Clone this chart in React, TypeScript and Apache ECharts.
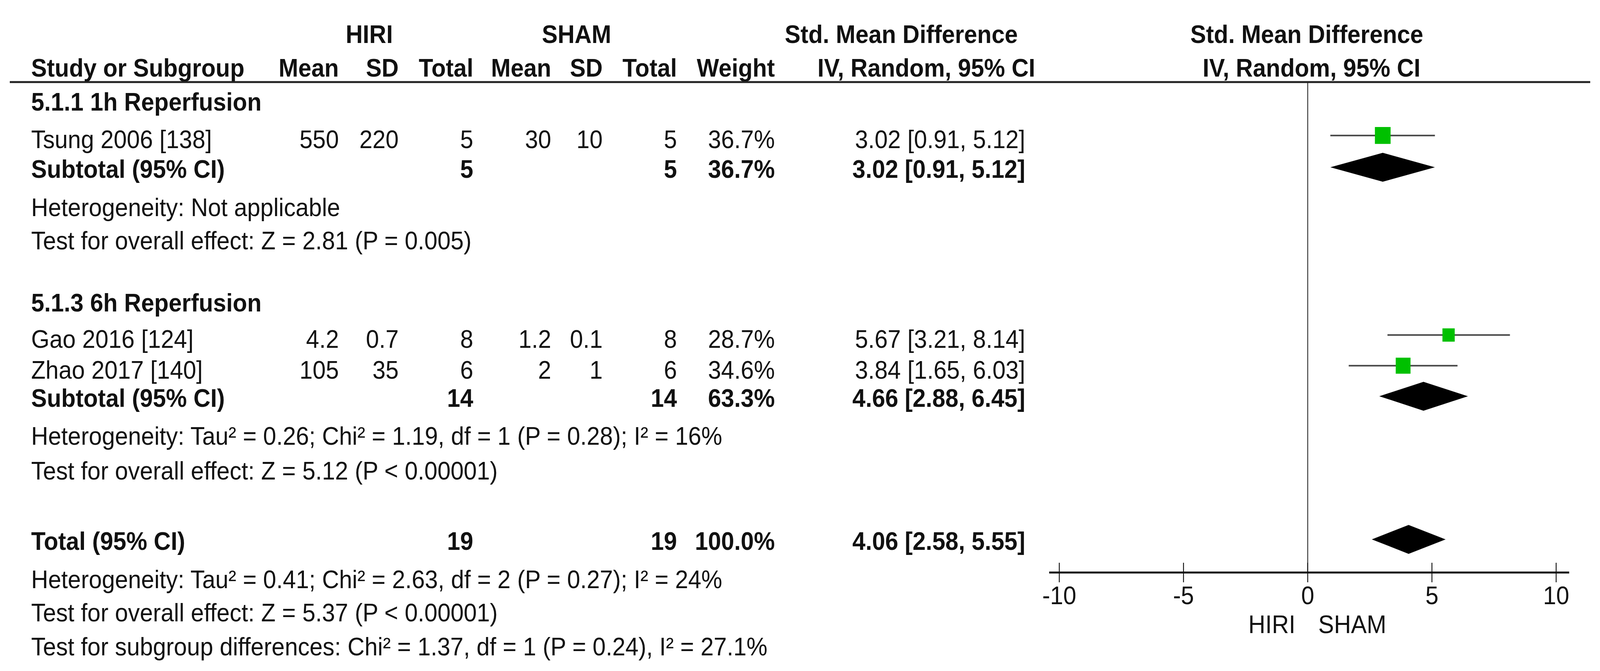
import React, { useEffect, useRef } from "react";
import * as echarts from "echarts";

// ---------- data ----------
const studyNames = ["Tsung 2006 [138]", "Gao 2016 [124]", "Zhao 2017 [140]"];
const studyGroup = [0, 1, 1];
const hiriMean = [550, 4.2, 105];
const hiriSD = [220, 0.7, 35];
const hiriTotal = [5, 8, 6];
const shamMean = [30, 1.2, 2];
const shamSD = [10, 0.1, 1];
const shamTotal = [5, 8, 6];
const studyWeight = [36.7, 28.7, 34.6];
const studySMD = [3.02, 5.67, 3.84];
const studyLow = [0.91, 3.21, 1.65];
const studyHigh = [5.12, 8.14, 6.03];

const groupNames = ["5.1.1 1h Reperfusion", "5.1.3 6h Reperfusion"];
const groupHiriTotal = [5, 14];
const groupShamTotal = [5, 14];
const groupWeight = [36.7, 63.3];
const groupSMD = [3.02, 4.66];
const groupLow = [0.91, 2.88];
const groupHigh = [5.12, 6.45];
const groupHet = [
  "Heterogeneity: Not applicable",
  "Heterogeneity: Tau² = 0.26; Chi² = 1.19, df = 1 (P = 0.28); I² = 16%",
];
const groupEffect = [
  "Test for overall effect: Z = 2.81 (P = 0.005)",
  "Test for overall effect: Z = 5.12 (P < 0.00001)",
];

const totalHiri = 19;
const totalSham = 19;
const totalWeight = 100.0;
const totalSMD = 4.06;
const totalLow = 2.58;
const totalHigh = 5.55;
const totalNotes = [
  "Heterogeneity: Tau² = 0.41; Chi² = 2.63, df = 2 (P = 0.27); I² = 24%",
  "Test for overall effect: Z = 5.37 (P < 0.00001)",
  "Test for subgroup differences: Chi² = 1.37, df = 1 (P = 0.24), I² = 27.1%",
];

const axisTicks = [-10, -5, 0, 5, 10];
const favourLeft = "HIRI";
const favourRight = "SHAM";

// ---------- layout (row slots, in y-axis line units) ----------
const HDR_Y = [-1.57, -0.47];
const GROUP_HEAD_Y = [0.64, 7.19];
const STUDY_Y = [1.87, 8.38, 9.38];
const SUBTOTAL_Y = [2.83, 10.3];
const HET_Y = [4.08, 11.54];
const TEST_Y = [5.16, 12.68];
const TOTAL_Y = 14.97;
const NOTE_Y = [16.22, 17.3, 18.41];
const FAVOUR_Y = 17.68;

const COL = {
  name: 86,
  hMean: 935,
  hSD: 1100,
  hTot: 1306,
  sMean: 1521,
  sSD: 1663,
  sTot: 1868,
  weight: 2138,
  ci: 2829,
};

const W = 4415;
const H = 1717;
const FONT = '"Liberation Sans", Arial, Helvetica, sans-serif';
const FS = 65;
const INK = "#111";

const ciText = (m: number, l: number, h: number) =>
  `${m.toFixed(2)} [${l.toFixed(2)}, ${h.toFixed(2)}]`;

export default function App() {
  const ref = useRef<HTMLDivElement>(null);
  const sx = typeof window !== "undefined" ? Math.min(1, window.innerWidth / W) : 1;
  const sy = typeof window !== "undefined" ? Math.min(1, window.innerHeight / H) : 1;

  useEffect(() => {
    if (!ref.current) return;
    const chart = echarts.init(ref.current, undefined, { renderer: "svg", width: W, height: H });

    const studyData = studyNames.map((_, i) => [
      studySMD[i],
      studyLow[i],
      studyHigh[i],
      STUDY_Y[i],
      studyWeight[i],
    ]);
    const diamondData = [
      ...groupNames.map((_, g) => [groupSMD[g], groupLow[g], groupHigh[g], SUBTOTAL_Y[g]]),
      [totalSMD, totalLow, totalHigh, TOTAL_Y],
    ];

    chart.setOption({
      animation: false,
      backgroundColor: "#ffffff",
      textStyle: { fontFamily: FONT },
      grid: { left: 2923, right: 121, top: 210, bottom: 252, containLabel: false },
      xAxis: {
        type: "value",
        min: -10,
        max: 10,
        interval: 5,
        axisLine: { show: false },
        axisTick: { show: false },
        splitLine: { show: false },
        axisLabel: {
          show: true,
          fontSize: FS,
          color: INK,
          fontFamily: FONT,
          margin: 26,
          formatter: (v: number) => String(v),
        },
      },
      yAxis: {
        type: "value",
        inverse: true,
        min: 0,
        max: 16,
        show: false,
      },
      series: [
        {
          // axis line, ticks and line of no effect
          type: "custom",
          data: [[0, 0]],
          silent: true,
          z: 1,
          renderItem: (params: any, api: any) => {
            const yb = api.coord([0, 16])[1];
            const yt = api.coord([0, 0])[1];
            const x0 = api.coord([0, 0])[0];
            const xl = api.coord([axisTicks[0], 16])[0];
            const xr = api.coord([axisTicks[axisTicks.length - 1], 16])[0];
            const children: any[] = [
              {
                type: "line",
                shape: { x1: x0, y1: yt, x2: x0, y2: yb },
                style: { stroke: "#333", lineWidth: 2.5 },
              },
              {
                type: "line",
                shape: { x1: xl - 28, y1: yb, x2: xr + 36, y2: yb },
                style: { stroke: "#111", lineWidth: 5 },
              },
            ];
            axisTicks.forEach((t) => {
              const x = api.coord([t, 16])[0];
              children.push({
                type: "line",
                shape: { x1: x, y1: yb - 25, x2: x, y2: yb + 25 },
                style: { stroke: "#111", lineWidth: 2.5 },
              });
            });
            return { type: "group", children };
          },
        },
        {
          // studies: CI line + weighted square
          type: "custom",
          data: studyData,
          encode: { x: [0, 1, 2], y: 3 },
          z: 3,
          renderItem: (params: any, api: any) => {
            const y = api.coord([api.value(0), api.value(3)])[1] - 10;
            const xe = api.coord([api.value(0), 0])[0];
            const xl = api.coord([api.value(1), 0])[0];
            const xh = api.coord([api.value(2), 0])[0];
            const s = api.value(4) * 1.18;
            return {
              type: "group",
              children: [
                {
                  type: "line",
                  shape: { x1: xl, y1: y, x2: xh, y2: y },
                  style: { stroke: "#474747", lineWidth: 4 },
                },
                {
                  type: "rect",
                  shape: { x: xe - s / 2, y: y - s / 2, width: s, height: s },
                  style: { fill: "#00c000" },
                },
              ],
            };
          },
        },
        {
          // subtotal / total diamonds
          type: "custom",
          data: diamondData,
          encode: { x: [0, 1, 2], y: 3 },
          z: 3,
          renderItem: (params: any, api: any) => {
            const y = api.coord([api.value(0), api.value(3)])[1] - 4;
            const xe = api.coord([api.value(0), 0])[0];
            const xl = api.coord([api.value(1), 0])[0];
            const xh = api.coord([api.value(2), 0])[0];
            const h = 37;
            return {
              type: "polygon",
              shape: {
                points: [
                  [xl, y],
                  [xe, y - h],
                  [xh, y],
                  [xe, y + h],
                ],
              },
              style: { fill: "#000" },
            };
          },
        },
      ],
    });

    const py = (v: number) => (chart.convertToPixel({ gridIndex: 0 }, [0, v]) as number[])[1];
    const px = (v: number) => (chart.convertToPixel({ gridIndex: 0 }, [v, 0]) as number[])[0];

    const texts: any[] = [];
    const T = (text: string, x: number, yv: number, align: string, bold = false) => {
      texts.push({
        type: "text",
        x,
        y: py(yv),
        silent: true,
        style: {
          text,
          fontSize: FS,
          fontFamily: FONT,
          fontWeight: bold ? "bold" : "normal",
          fill: INK,
          align,
          textAlign: align,
          verticalAlign: "middle",
          textVerticalAlign: "middle",
        },
      });
    };

    T("HIRI", 1019, HDR_Y[0], "center", true);
    T("SHAM", 1591, HDR_Y[0], "center", true);
    T("Std. Mean Difference", 2487, HDR_Y[0], "center", true);
    T("Std. Mean Difference", 3606, HDR_Y[0], "center", true);
    T("Study or Subgroup", COL.name, HDR_Y[1], "left", true);
    T("Mean", COL.hMean, HDR_Y[1], "right", true);
    T("SD", COL.hSD, HDR_Y[1], "right", true);
    T("Total", COL.hTot, HDR_Y[1], "right", true);
    T("Mean", COL.sMean, HDR_Y[1], "right", true);
    T("SD", COL.sSD, HDR_Y[1], "right", true);
    T("Total", COL.sTot, HDR_Y[1], "right", true);
    T("Weight", COL.weight, HDR_Y[1], "right", true);
    T("IV, Random, 95% CI", 2556, HDR_Y[1], "center", true);
    T("IV, Random, 95% CI", 3619, HDR_Y[1], "center", true);

    groupNames.forEach((gName, g) => {
      T(gName, COL.name, GROUP_HEAD_Y[g], "left", true);
      studyNames.forEach((s, i) => {
        if (studyGroup[i] !== g) return;
        const y = STUDY_Y[i];
        T(s, COL.name, y, "left");
        T(String(hiriMean[i]), COL.hMean, y, "right");
        T(String(hiriSD[i]), COL.hSD, y, "right");
        T(String(hiriTotal[i]), COL.hTot, y, "right");
        T(String(shamMean[i]), COL.sMean, y, "right");
        T(String(shamSD[i]), COL.sSD, y, "right");
        T(String(shamTotal[i]), COL.sTot, y, "right");
        T(studyWeight[i].toFixed(1) + "%", COL.weight, y, "right");
        T(ciText(studySMD[i], studyLow[i], studyHigh[i]), COL.ci, y, "right");
      });
      const ys = SUBTOTAL_Y[g];
      T("Subtotal (95% CI)", COL.name, ys, "left", true);
      T(String(groupHiriTotal[g]), COL.hTot, ys, "right", true);
      T(String(groupShamTotal[g]), COL.sTot, ys, "right", true);
      T(groupWeight[g].toFixed(1) + "%", COL.weight, ys, "right", true);
      T(ciText(groupSMD[g], groupLow[g], groupHigh[g]), COL.ci, ys, "right", true);
      T(groupHet[g], COL.name, HET_Y[g], "left");
      T(groupEffect[g], COL.name, TEST_Y[g], "left");
    });

    T("Total (95% CI)", COL.name, TOTAL_Y, "left", true);
    T(String(totalHiri), COL.hTot, TOTAL_Y, "right", true);
    T(String(totalSham), COL.sTot, TOTAL_Y, "right", true);
    T(totalWeight.toFixed(1) + "%", COL.weight, TOTAL_Y, "right", true);
    T(ciText(totalSMD, totalLow, totalHigh), COL.ci, TOTAL_Y, "right", true);
    totalNotes.forEach((n, k) => T(n, COL.name, NOTE_Y[k], "left"));

    const x0 = px(0);
    T(favourLeft, x0 - 34, FAVOUR_Y, "right");
    T(favourRight, x0 + 29, FAVOUR_Y, "left");

    texts.push({
      type: "line",
      silent: true,
      shape: { x1: 27, y1: py(0), x2: 4388, y2: py(0) },
      style: { stroke: "#222", lineWidth: 5 },
      z: 10,
    });

    chart.setOption({ graphic: texts });

    return () => chart.dispose();
  }, []);

  return (
    <div
      style={{
        position: "fixed",
        left: 0,
        top: 0,
        width: "100vw",
        height: "100vh",
        overflow: "hidden",
        background: "#fff",
      }}
    >
      <div
        ref={ref}
        style={{
          width: W,
          height: H,
          transform: `scale(${sx}, ${sy})`,
          transformOrigin: "0 0",
          background: "#fff",
        }}
      />
    </div>
  );
}
